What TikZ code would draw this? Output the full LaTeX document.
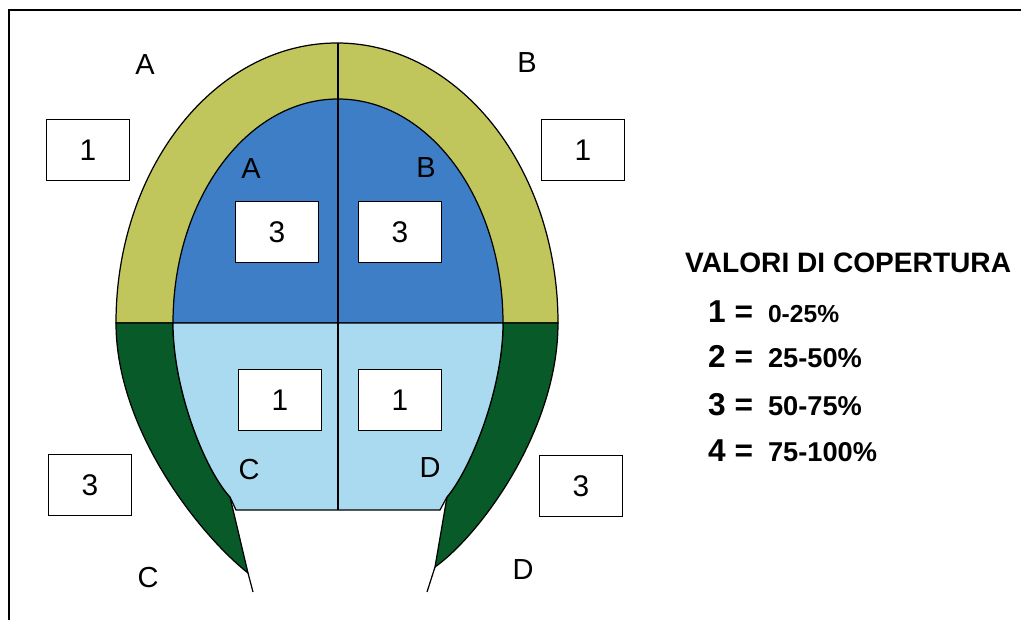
\documentclass[tikz,border=0pt]{standalone}
\usepackage{fontspec}
\setmainfont{Liberation Sans}
\definecolor{amarillo}{RGB}{193,198,92}
\definecolor{azul}{RGB}{62,126,198}
\definecolor{celeste}{RGB}{170,218,240}
\definecolor{verdeosc}{RGB}{8,90,40}
\begin{document}
\begin{tikzpicture}[x=0.02cm,y=0.02cm,
		borde/.style={draw=black,line width=0.7pt},
		caja/.style={draw,fill=white,line width=0.7pt,minimum width=1.66cm,minimum height=1.22cm,inner sep=0pt,font=\fontsize{17}{17}\selectfont},
		letra/.style={font=\fontsize{16.5}{16.5}\selectfont}]
		\useasboundingbox (0,0) rectangle (1021,620);
		%marco
		\draw [line width=0.8pt] (9,0) -- (9,610) -- (1021,610);
		%%%% CORONA ARRIBA
		\filldraw [fill=amarillo,borde] (116,297) arc[start angle=180,end angle=0,x radius=221,y radius=280] -- cycle;
		\filldraw [fill=azul,borde] (173,297) arc[start angle=180,end angle=0,x radius=165,y radius=224] -- cycle;
		%%%% ABAJO
		\filldraw [fill=verdeosc,borde] (116,297) -- (173,297) .. controls (173,230) and (205,150) .. (230,123) -- (248,47) .. controls (200,85) and (116,190) .. (116,297) -- cycle;
		\filldraw [fill=verdeosc,borde] (558,297) -- (503,297) .. controls (503,230) and (470,150) .. (447,123) -- (435,53) .. controls (480,85) and (558,190) .. (558,297) -- cycle;
		\filldraw [fill=celeste,borde] (173,297) .. controls (173,230) and (205,150) .. (230,123) -- (236,110) -- (440,110) -- (447,123) .. controls (470,150) and (503,230) .. (503,297) -- cycle;
		\draw [borde] (248,47) -- (253,28);
		\draw [borde] (435,53) -- (427,28);
		%linea centro
		\draw [borde] (338,577) -- (338,110);
		%letras
		\node[letra] at (145,555) (aext) {A};
		\node[letra] at (527,557) (bext) {B};
		\node[letra] at (251,451) (aint) {A};
		\node[letra] at (426,452) (bint) {B};
		\node[letra] at (249,150) (cint) {C};
		\node[letra] at (430,152) (dint) {D};
		\node[letra] at (148,42) (cext) {C};
		\node[letra] at (523,50) (dext) {D};
		%cajas
		\node[caja] at (88,470) (caext) {1};
		\node[caja] at (583,470) (cbext) {1};
		\node[caja] at (277,388) (caint) {3};
		\node[caja] at (400,388) (cbint) {3};
		\node[caja] at (280,220) (ccint) {1};
		\node[caja] at (400,220) (cdint) {1};
		\node[caja] at (90,135) (ccext) {3};
		\node[caja] at (581,134) (cdext) {3};
		%leyenda
		\node[anchor=base west,font=\bfseries\fontsize{16}{16}\selectfont] at (679,348) (titulo) {VALORI DI COPERTURA};
		\node[anchor=base west,font=\bfseries] at (702,298) (v1) {{\fontsize{18}{18}\selectfont 1 =}\hspace{0.3cm}{\fontsize{14}{14}\selectfont 0-25\%}};
		\node[anchor=base west,font=\bfseries] at (702,253) (v2) {{\fontsize{18}{18}\selectfont 2 =}\hspace{0.3cm}{\fontsize{15.5}{15.5}\selectfont 25-50\%}};
		\node[anchor=base west,font=\bfseries] at (702,205) (v3) {{\fontsize{18}{18}\selectfont 3 =}\hspace{0.3cm}{\fontsize{15.5}{15.5}\selectfont 50-75\%}};
		\node[anchor=base west,font=\bfseries] at (702,159) (v4) {{\fontsize{18}{18}\selectfont 4 =}\hspace{0.3cm}{\fontsize{15.5}{15.5}\selectfont 75-100\%}};
\end{tikzpicture}
\end{document}
